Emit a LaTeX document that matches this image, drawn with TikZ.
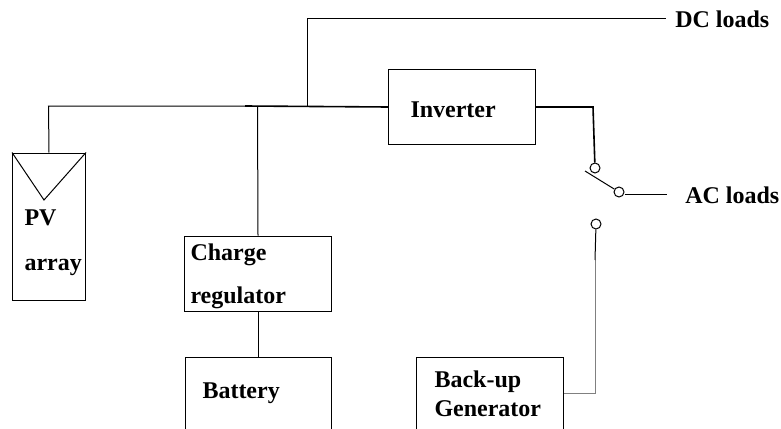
\documentclass[tikz,border=0pt]{standalone}
\usepackage{fontspec}
\setmainfont{Liberation Serif}
\tikzset{
  box/.style n args={4}{draw, line width=.75pt, anchor=base west, inner ysep=0pt, align=left,
    font=\fontsize{18}{18}\selectfont\bfseries,
    text width=#1, inner xsep=#2, text height=#3, text depth=#4},
  loadlabel/.style={anchor=base west, inner sep=0pt, font=\fontsize{18}{18}\selectfont\bfseries},
  contact/.style={draw, circle, line width=.75pt, fill=white, inner sep=0pt, minimum size=7.5pt},
  thinline/.style={line width=.75pt},
  thickline/.style={line width=1.2pt}
}
\begin{document}
\begin{tikzpicture}[x=.75pt,y=-.75pt]
\useasboundingbox (0,0) rectangle (781,428);
\clip (0,0) rectangle (781,428);
\node[box={36.75pt}{9pt}{54pt}{56.25pt}] (pv) at (12,225) {PV\\[15.75pt]\mbox{array}};
\node[box={77.25pt}{16.5pt}{35.25pt}{20.25pt}] (inverter) at (388,117) {Inverter};
\node[box={101.25pt}{4.5pt}{18pt}{38.25pt}] (charge) at (184,260) {Charge\\[14.25pt]regulator};
\node[box={84pt}{12.75pt}{30.75pt}{52.5pt}] (battery) at (185,398) {Battery};
\node[box={83.25pt}{13.5pt}{22.5pt}{60pt}] (generator) at (416,387) {Back-up\\[3.75pt]Generator};
\node[loadlabel] (dcloads) at (675,28) {DC loads};
\node[loadlabel] (acloads) at (685,203) {AC loads};
\node[contact] (swtop) at (595,168) {};
\node[contact] (swout) at (619,192) {};
\node[contact] (swgen) at (596,224) {};
\coordinate (pvtip) at (44,200);
\coordinate (busbend) at (48.5,106);
\coordinate (busthick) at (245,106);
\coordinate (busdc) at (307,106);
\coordinate (buscharge) at (257.5,106);
\coordinate (dcend) at (666,19);
\coordinate (acend) at (667,194);
\coordinate (swarm) at (585,171);
\coordinate (invbend) at (593,107);
\coordinate (genbend) at (595,393);
\coordinate (genmid) at (595,260);
\draw[thinline] (pv.north west) -- (pvtip) -- (pv.north east);
\draw[thinline] (pv.north) -- (busbend) -- (busthick);
\draw[thickline] (busthick) -- (inverter.west);
\draw[thinline] (busdc) |- (dcend);
\draw[thinline] (buscharge) -- (charge.north);
\draw[thinline] (charge.south) -- (battery.north -| charge.south);
\draw[thickline] (inverter.east) -- (invbend) -- (swtop);
\draw[thinline] (swarm) -- (swout);
\draw[thinline] (swout.east |- acend) -- (acend);
\draw[thinline,gray] (generator.east |- genbend) -- (genbend) -- (genmid);
\draw[thinline] (genmid) -- (swgen);
\end{tikzpicture}
\end{document}
